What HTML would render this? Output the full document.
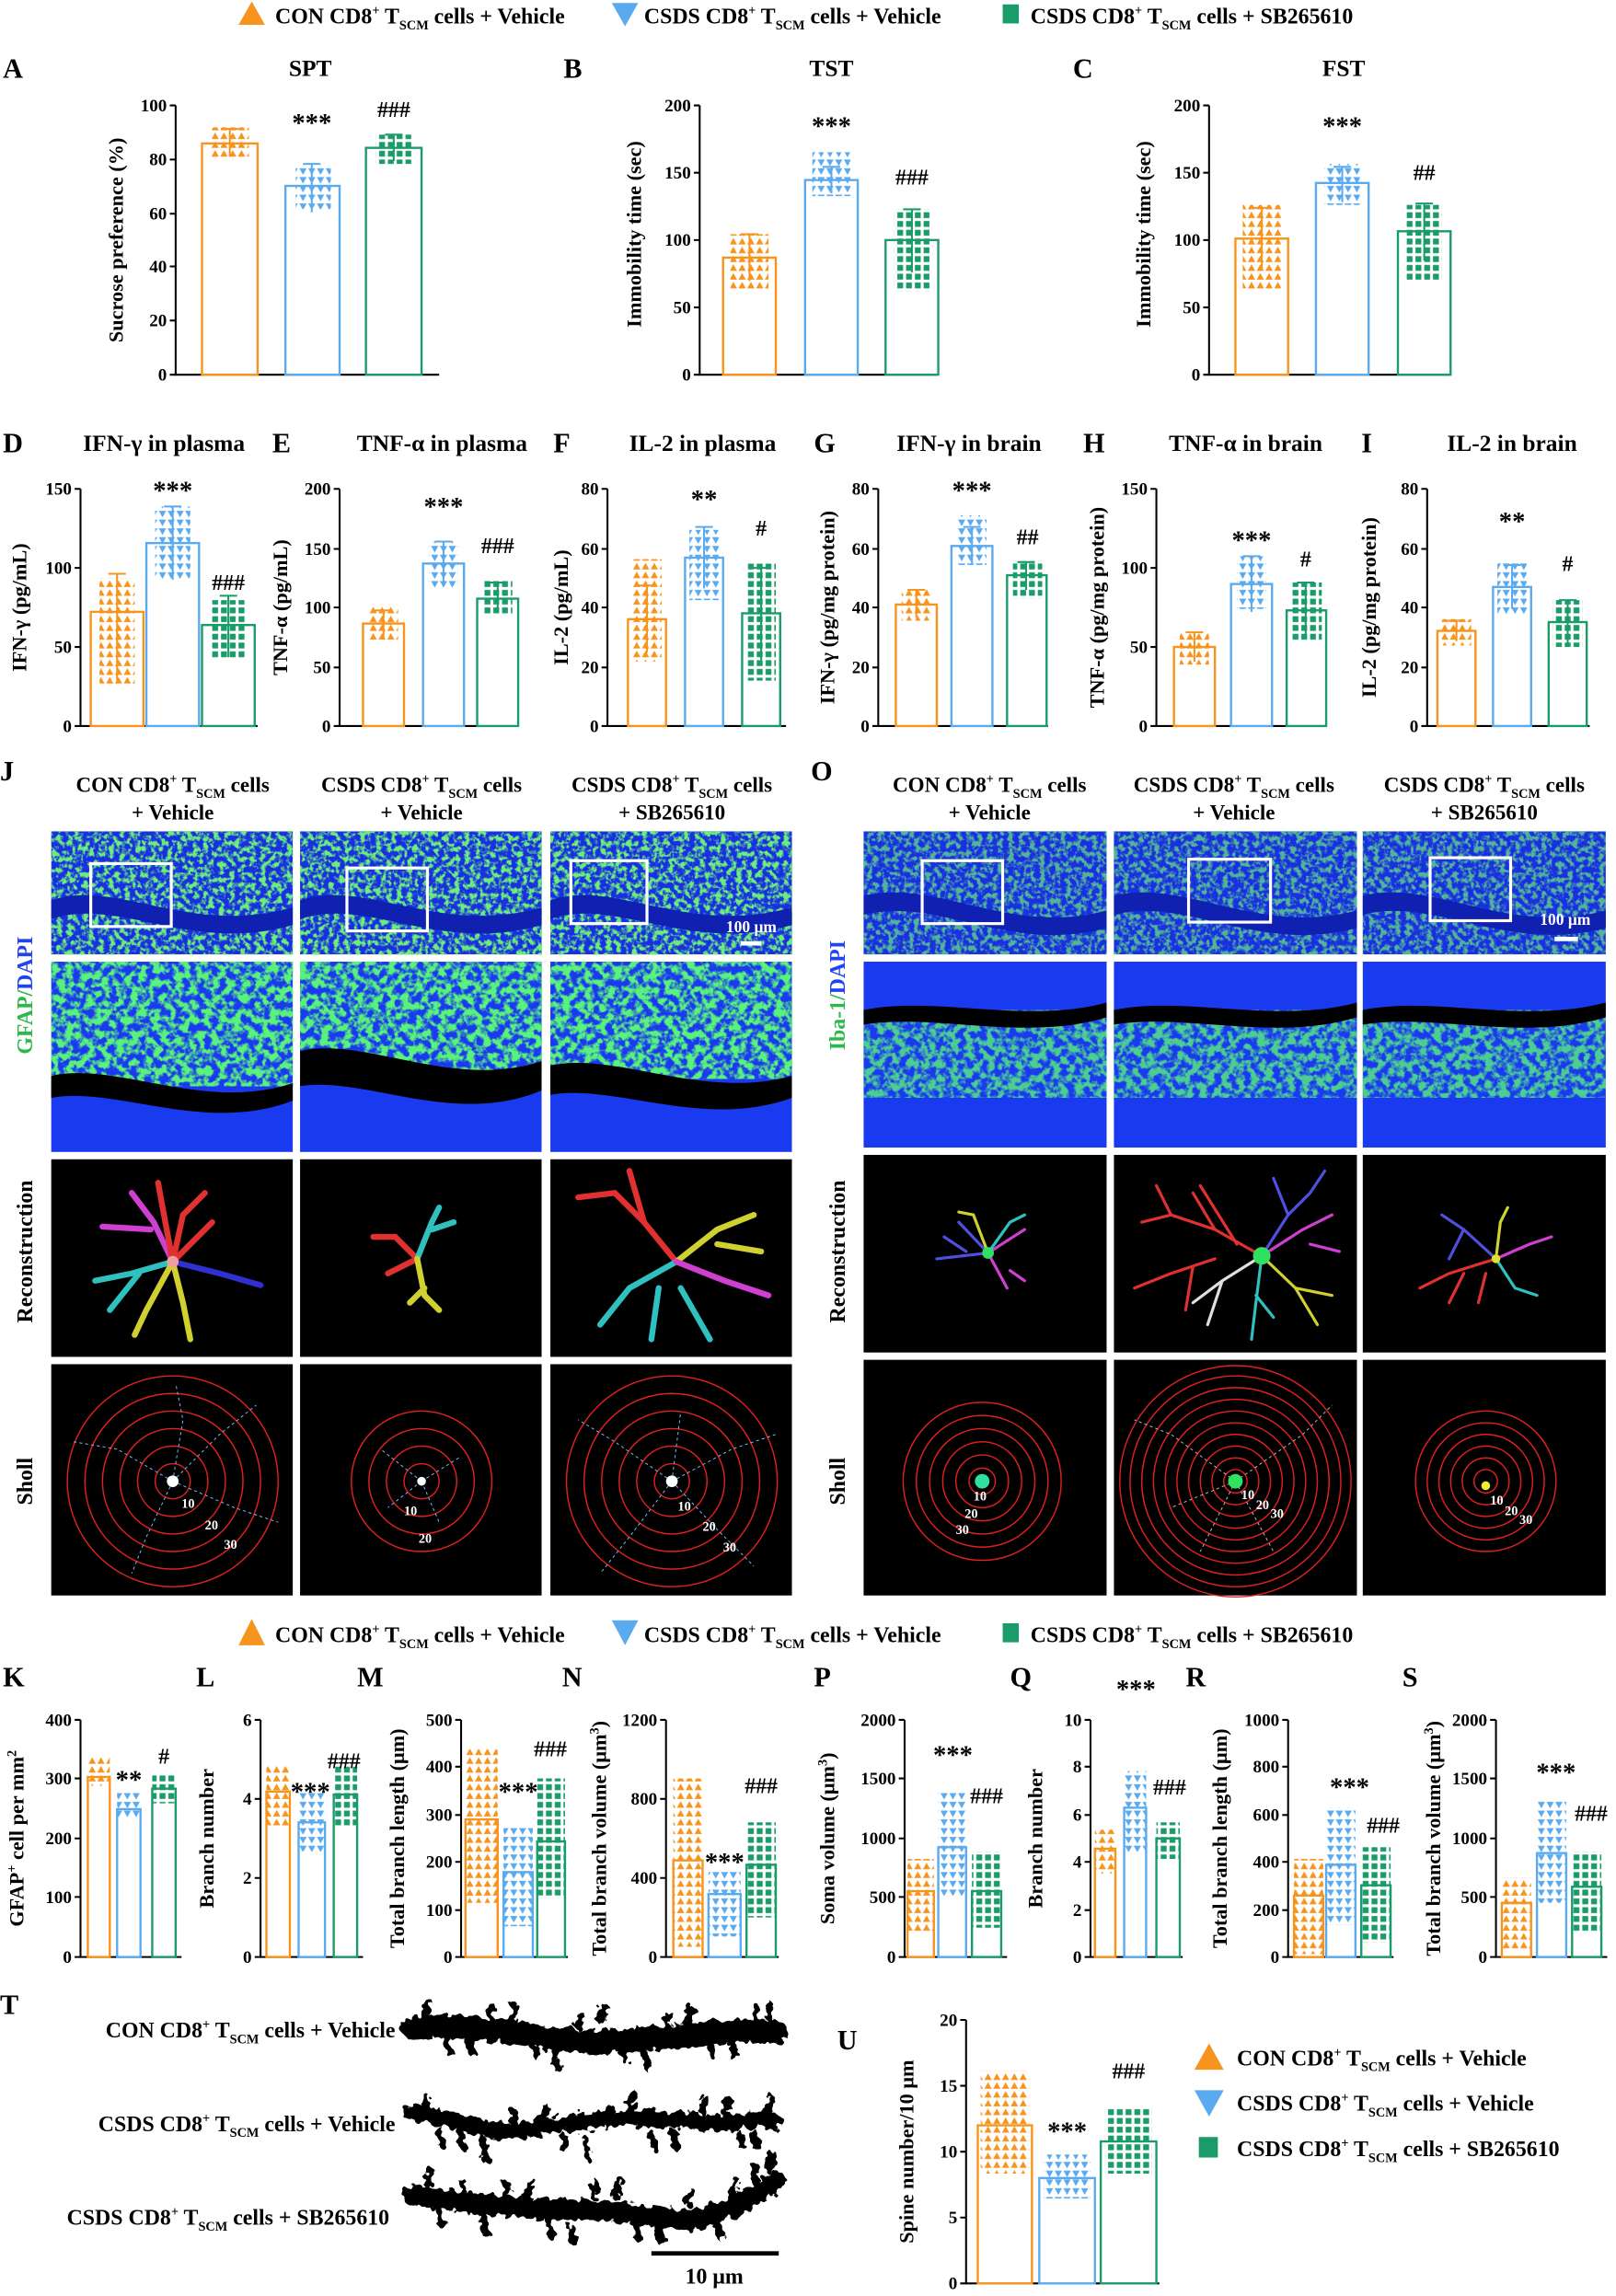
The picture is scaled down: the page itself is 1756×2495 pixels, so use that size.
<!DOCTYPE html>
<html><head><meta charset="utf-8"><style>
html,body{margin:0;padding:0;background:#fff}
svg{display:block}
text{font-family:"Liberation Serif",serif;font-weight:bold;fill:#000}
.t{font-size:15px}.tk{font-size:12px;text-anchor:end}.L{font-size:19px}.st{font-size:15px;text-anchor:middle}
.ax{stroke:#000;stroke-width:1.3;fill:none}
.o{fill:#fff;stroke:#f7941d;stroke-width:1.5}.b{fill:#fff;stroke:#5aaaf0;stroke-width:1.5}.g{fill:#fff;stroke:#1a9b6a;stroke-width:1.5}
.eo{stroke:#f7941d;stroke-width:1.3}.eb{stroke:#5aaaf0;stroke-width:1.3}.eg{stroke:#1a9b6a;stroke-width:1.3}
.co{fill:url(#po)}.cb{fill:url(#pb)}.cg{fill:url(#pg)}
</style></head><body>
<svg width="1756" height="2495" viewBox="0 0 1104 1568.6" xmlns="http://www.w3.org/2000/svg">
<defs>
<pattern id="po" width="6" height="6" patternUnits="userSpaceOnUse"><polygon points="0.5,5 3,0.5 5.5,5" fill="#f7941d"/></pattern>
<pattern id="pb" width="6" height="6" patternUnits="userSpaceOnUse"><polygon points="0.5,1 5.5,1 3,5.5" fill="#5aaaf0"/></pattern>
<pattern id="pg" width="6" height="6" patternUnits="userSpaceOnUse"><rect x="1" y="1" width="4" height="4" fill="#1a9b6a"/></pattern>
<filter id="sp" x="0" y="0" width="1" height="1"><feTurbulence type="fractalNoise" baseFrequency="0.28" numOctaves="3" seed="3"/><feColorMatrix values="0 0 0 0 0.15  0 0 0 0 0.85  0 0 0 0 0.2  5 0 0 0 -2.2"/></filter>
<filter id="sp2" x="0" y="0" width="1" height="1"><feTurbulence type="fractalNoise" baseFrequency="0.2" numOctaves="3" seed="7"/><feColorMatrix values="0 0 0 0 0.1  0 0 0 0 0.9  0 0 0 0 0.2  5 0 0 0 -2.0"/></filter>
<filter id="dd" x="-5%" y="-50%" width="110%" height="200%"><feTurbulence type="fractalNoise" baseFrequency="0.18" numOctaves="2" seed="5"/><feDisplacementMap in="SourceGraphic" scale="9"/></filter>
</defs>
<rect width="1104" height="1568.6" fill="#fff"/>

<!-- top legend -->
<polygon points="163,17 172,1 181,17" fill="#f7941d"/>
<text x="188" y="16" class="t">CON CD8<tspan font-size="9" dy="-6">+</tspan><tspan dy="6"> T</tspan><tspan font-size="9" dy="4">SCM</tspan><tspan dy="-4"> cells + Vehicle</tspan></text>
<polygon points="418,2 436,2 427,18" fill="#5aaaf0"/>
<text x="440" y="16" class="t">CSDS CD8<tspan font-size="9" dy="-6">+</tspan><tspan dy="6"> T</tspan><tspan font-size="9" dy="4">SCM</tspan><tspan dy="-4"> cells + Vehicle</tspan></text>
<rect x="685" y="3" width="11" height="13" fill="#1a9b6a"/>
<text x="704" y="16" class="t">CSDS CD8<tspan font-size="9" dy="-6">+</tspan><tspan dy="6"> T</tspan><tspan font-size="9" dy="4">SCM</tspan><tspan dy="-4"> cells + SB265610</tspan></text>

<!-- Row 1 -->
<text x="2" y="53" class="L">A</text><text x="212" y="52" class="st" style="font-size:16px">SPT</text>
<text x="385" y="53" class="L">B</text><text x="568" y="52" class="st" style="font-size:16px">TST</text>
<text x="733" y="53" class="L">C</text><text x="918" y="52" class="st" style="font-size:16px">FST</text>
<!-- A -->
<path class="ax" d="M120,72V256H300"/>
<g class="tk"><text x="114" y="260">0</text><text x="114" y="223">20</text><text x="114" y="186">40</text><text x="114" y="150">60</text><text x="114" y="113">80</text><text x="114" y="76">100</text></g>
<path class="ax" d="M116,256h4M116,219h4M116,182h4M116,146h4M116,109h4M116,72h4"/>
<text transform="translate(84,164) rotate(-90)" text-anchor="middle" class="t" style="font-size:14px">Sucrose preference (%)</text>
<rect class="o" x="138" y="98" width="38" height="158"/><rect class="b" x="195" y="127" width="37" height="129"/><rect class="g" x="250" y="101" width="38" height="155"/>
<rect class="co" x="144" y="87" width="26" height="22"/><rect class="cb" x="202" y="113" width="24" height="30"/><rect class="cg" x="257" y="92" width="24" height="20"/>
<path class="eo" d="M157,88V107M151,88h12"/><path class="eb" d="M213,112V145M207,112h12"/><path class="eg" d="M269,92V110M263,92h12"/>
<text x="213" y="90" class="st" style="font-size:18px">***</text><text x="269" y="80" class="st">###</text>
<!-- B -->
<path class="ax" d="M478,72V256H640"/>
<g class="tk"><text x="472" y="260">0</text><text x="472" y="214">50</text><text x="472" y="168">100</text><text x="472" y="122">150</text><text x="472" y="76">200</text></g>
<path class="ax" d="M474,256h4M474,210h4M474,164h4M474,118h4M474,72h4"/>
<text transform="translate(438,160) rotate(-90)" text-anchor="middle" class="t" style="font-size:14px">Immobility time (sec)</text>
<rect class="o" x="494" y="176" width="36" height="80"/><rect class="b" x="550" y="123" width="36" height="133"/><rect class="g" x="605" y="164" width="36" height="92"/>
<rect class="co" x="499" y="160" width="26" height="38"/><rect class="cb" x="555" y="104" width="26" height="30"/><rect class="cg" x="611" y="143" width="24" height="56"/>
<path class="eo" d="M512,160V192M506,160h12"/><path class="eb" d="M568,114V132M562,114h12"/><path class="eg" d="M623,143V186M617,143h12"/>
<text x="568" y="92" class="st" style="font-size:18px">***</text><text x="623" y="126" class="st">###</text>
<!-- C -->
<path class="ax" d="M826,72V256H990"/>
<g class="tk"><text x="820" y="260">0</text><text x="820" y="214">50</text><text x="820" y="168">100</text><text x="820" y="122">150</text><text x="820" y="76">200</text></g>
<path class="ax" d="M822,256h4M822,210h4M822,164h4M822,118h4M822,72h4"/>
<text transform="translate(786,160) rotate(-90)" text-anchor="middle" class="t" style="font-size:14px">Immobility time (sec)</text>
<rect class="o" x="844" y="163" width="36" height="93"/><rect class="b" x="899" y="125" width="36" height="131"/><rect class="g" x="955" y="158" width="36" height="98"/>
<rect class="co" x="849" y="140" width="26" height="58"/><rect class="cb" x="905" y="112" width="24" height="28"/><rect class="cg" x="961" y="140" width="24" height="52"/>
<path class="eo" d="M862,142V184M856,142h12"/><path class="eb" d="M917,114V138M911,114h12"/><path class="eg" d="M973,139V178M967,139h12"/>
<text x="917" y="92" class="st" style="font-size:18px">***</text><text x="973" y="123" class="st">##</text>

<!-- Row 2 -->
<g class="L"><text x="2" y="309">D</text><text x="186" y="309">E</text><text x="378" y="309">F</text><text x="556" y="309">G</text><text x="740" y="309">H</text><text x="930" y="309">I</text></g>
<g class="st" style="font-size:16px"><text x="112" y="308">IFN-γ in plasma</text><text x="302" y="308">TNF-α in plasma</text><text x="480" y="308">IL-2 in plasma</text><text x="662" y="308">IFN-γ in brain</text><text x="851" y="308">TNF-α in brain</text><text x="1033" y="308">IL-2 in brain</text></g>
<!-- D -->
<path class="ax" d="M55,334V496H176"/>
<g class="tk"><text x="49" y="500">0</text><text x="49" y="446">50</text><text x="49" y="392">100</text><text x="49" y="338">150</text></g>
<path class="ax" d="M51,496h4M51,442h4M51,388h4M51,334h4"/>
<text transform="translate(18,415) rotate(-90)" text-anchor="middle" class="t" style="font-size:14px">IFN-γ (pg/mL)</text>
<rect class="o" x="62" y="418" width="36" height="78"/><rect class="b" x="100" y="371" width="36" height="125"/><rect class="g" x="138" y="427" width="36" height="69"/>
<rect class="co" x="68" y="395" width="24" height="72"/><rect class="cb" x="106" y="346" width="24" height="50"/><rect class="cg" x="144" y="410" width="24" height="40"/>
<path class="eo" d="M80,392V465M74,392h12"/><path class="eb" d="M118,346V396M112,346h12"/><path class="eg" d="M156,407V449M150,407h12"/>
<text x="118" y="341" class="st" style="font-size:18px">***</text><text x="156" y="403" class="st">###</text>
<!-- E -->
<path class="ax" d="M232,334V496H354"/>
<g class="tk"><text x="226" y="500">0</text><text x="226" y="460">50</text><text x="226" y="419">100</text><text x="226" y="379">150</text><text x="226" y="338">200</text></g>
<path class="ax" d="M228,496h4M228,456h4M228,415h4M228,375h4M228,334h4"/>
<text transform="translate(196,415) rotate(-90)" text-anchor="middle" class="t" style="font-size:14px">TNF-α (pg/mL)</text>
<rect class="o" x="248" y="426" width="28" height="70"/><rect class="b" x="289" y="385" width="28" height="111"/><rect class="g" x="326" y="409" width="28" height="87"/>
<rect class="co" x="252" y="413" width="20" height="24"/><rect class="cb" x="293" y="370" width="20" height="32"/><rect class="cg" x="330" y="396" width="20" height="24"/>
<path class="eo" d="M262,417V436M256,417h12"/><path class="eb" d="M303,370V400M297,370h12"/><path class="eg" d="M340,398V418M334,398h12"/>
<text x="303" y="352" class="st" style="font-size:18px">***</text><text x="340" y="378" class="st">###</text>
<!-- F -->
<path class="ax" d="M415,334V496H537"/>
<g class="tk"><text x="409" y="500">0</text><text x="409" y="460">20</text><text x="409" y="419">40</text><text x="409" y="379">60</text><text x="409" y="338">80</text></g>
<path class="ax" d="M411,496h4M411,456h4M411,415h4M411,375h4M411,334h4"/>
<text transform="translate(388,415) rotate(-90)" text-anchor="middle" class="t" style="font-size:14px">IL-2 (pg/mL)</text>
<rect class="o" x="429" y="423" width="26" height="73"/><rect class="b" x="468" y="381" width="26" height="115"/><rect class="g" x="507" y="419" width="26" height="77"/>
<rect class="co" x="432" y="382" width="20" height="70"/><rect class="cb" x="471" y="362" width="20" height="48"/><rect class="cg" x="510" y="385" width="20" height="80"/>
<path class="eo" d="M442,400V446M436,400h12"/><path class="eb" d="M481,360V402M475,360h12"/><path class="eg" d="M520,388V451M514,388h12"/>
<text x="481" y="347" class="st" style="font-size:18px">**</text><text x="520" y="366" class="st">#</text>
<!-- G -->
<path class="ax" d="M600,334V496H716"/>
<g class="tk"><text x="594" y="500">0</text><text x="594" y="460">20</text><text x="594" y="419">40</text><text x="594" y="379">60</text><text x="594" y="338">80</text></g>
<path class="ax" d="M596,496h4M596,456h4M596,415h4M596,375h4M596,334h4"/>
<text transform="translate(570,415) rotate(-90)" text-anchor="middle" class="t" style="font-size:14px">IFN-γ (pg/mg protein)</text>
<rect class="o" x="612" y="413" width="28" height="83"/><rect class="b" x="650" y="373" width="28" height="123"/><rect class="g" x="688" y="393" width="27" height="103"/>
<rect class="co" x="616" y="402" width="20" height="22"/><rect class="cb" x="654" y="352" width="20" height="34"/><rect class="cg" x="692" y="383" width="20" height="26"/>
<path class="eo" d="M626,403V422M620,403h12"/><path class="eb" d="M664,360V386M658,360h12"/><path class="eg" d="M701,384V403M695,384h12"/>
<text x="664" y="341" class="st" style="font-size:18px">***</text><text x="702" y="372" class="st">##</text>
<!-- H -->
<path class="ax" d="M790,334V496H906"/>
<g class="tk"><text x="784" y="500">0</text><text x="784" y="446">50</text><text x="784" y="392">100</text><text x="784" y="338">150</text></g>
<path class="ax" d="M786,496h4M786,442h4M786,388h4M786,334h4"/>
<text transform="translate(754,415) rotate(-90)" text-anchor="middle" class="t" style="font-size:14px">TNF-α (pg/mg protein)</text>
<rect class="o" x="802" y="442" width="28" height="54"/><rect class="b" x="841" y="399" width="28" height="97"/><rect class="g" x="879" y="417" width="27" height="79"/>
<rect class="co" x="806" y="432" width="20" height="22"/><rect class="cb" x="845" y="380" width="20" height="36"/><rect class="cg" x="883" y="398" width="20" height="40"/>
<path class="eo" d="M816,432V452M810,432h12"/><path class="eb" d="M855,380V418M849,380h12"/><path class="eg" d="M892,398V436M886,398h12"/>
<text x="855" y="375" class="st" style="font-size:18px">***</text><text x="892" y="387" class="st">#</text>
<!-- I -->
<path class="ax" d="M975,334V496H1086"/>
<g class="tk"><text x="969" y="500">0</text><text x="969" y="460">20</text><text x="969" y="419">40</text><text x="969" y="379">60</text><text x="969" y="338">80</text></g>
<path class="ax" d="M971,496h4M971,456h4M971,415h4M971,375h4M971,334h4"/>
<text transform="translate(940,415) rotate(-90)" text-anchor="middle" class="t" style="font-size:14px">IL-2 (pg/mg protein)</text>
<rect class="o" x="982" y="431" width="26" height="65"/><rect class="b" x="1020" y="401" width="26" height="95"/><rect class="g" x="1058" y="425" width="26" height="71"/>
<rect class="co" x="985" y="423" width="20" height="18"/><rect class="cb" x="1023" y="384" width="20" height="36"/><rect class="cg" x="1061" y="410" width="20" height="32"/>
<path class="eo" d="M995,424V438M989,424h12"/><path class="eb" d="M1033,386V416M1027,386h12"/><path class="eg" d="M1071,410V440M1065,410h12"/>
<text x="1033" y="362" class="st" style="font-size:18px">**</text><text x="1071" y="390" class="st">#</text>

<!-- J panel -->
<text x="0" y="533" class="L">J</text>
<g class="st" style="font-size:14.5px">
<text x="118" y="541">CON CD8<tspan font-size="9" dy="-6">+</tspan><tspan dy="6"> T</tspan><tspan font-size="9" dy="4">SCM</tspan><tspan dy="-4"> cells</tspan></text><text x="118" y="560">+ Vehicle</text>
<text x="288" y="541">CSDS CD8<tspan font-size="9" dy="-6">+</tspan><tspan dy="6"> T</tspan><tspan font-size="9" dy="4">SCM</tspan><tspan dy="-4"> cells</tspan></text><text x="288" y="560">+ Vehicle</text>
<text x="459" y="541">CSDS CD8<tspan font-size="9" dy="-6">+</tspan><tspan dy="6"> T</tspan><tspan font-size="9" dy="4">SCM</tspan><tspan dy="-4"> cells</tspan></text><text x="459" y="560">+ SB265610</text>
<text x="676" y="541">CON CD8<tspan font-size="9" dy="-6">+</tspan><tspan dy="6"> T</tspan><tspan font-size="9" dy="4">SCM</tspan><tspan dy="-4"> cells</tspan></text><text x="676" y="560">+ Vehicle</text>
<text x="843" y="541">CSDS CD8<tspan font-size="9" dy="-6">+</tspan><tspan dy="6"> T</tspan><tspan font-size="9" dy="4">SCM</tspan><tspan dy="-4"> cells</tspan></text><text x="843" y="560">+ Vehicle</text>
<text x="1014" y="541">CSDS CD8<tspan font-size="9" dy="-6">+</tspan><tspan dy="6"> T</tspan><tspan font-size="9" dy="4">SCM</tspan><tspan dy="-4"> cells</tspan></text><text x="1014" y="560">+ SB265610</text>
</g>
<text x="554" y="533" class="L">O</text>
<text transform="translate(22,680) rotate(-90)" text-anchor="middle" class="t" style="fill:#2db84a">GFAP/<tspan style="fill:#2244ee">DAPI</tspan></text>
<text transform="translate(22,855) rotate(-90)" text-anchor="middle" class="t">Reconstruction</text>
<text transform="translate(22,1012) rotate(-90)" text-anchor="middle" class="t">Sholl</text>
<text transform="translate(577,680) rotate(-90)" text-anchor="middle" class="t" style="fill:#2db84a">Iba-1/<tspan style="fill:#2244ee">DAPI</tspan></text>
<text transform="translate(577,855) rotate(-90)" text-anchor="middle" class="t">Reconstruction</text>
<text transform="translate(577,1012) rotate(-90)" text-anchor="middle" class="t">Sholl</text>

<g>
<rect x="35" y="568" width="165" height="84" fill="#1830e0"/><rect x="35" y="568" width="165" height="84" filter="url(#sp)"/>
<path d="M35,615 C80,600 130,640 200,620 L200,632 C130,652 80,612 35,628Z" fill="#1020b0"/>
<rect x="62" y="590" width="55" height="43" fill="none" stroke="#fff" stroke-width="2"/>
<rect x="205" y="568" width="165" height="84" fill="#1830e0"/><rect x="205" y="568" width="165" height="84" filter="url(#sp)"/>
<path d="M205,615 C250,600 300,640 370,620 L370,632 C300,652 250,612 205,628Z" fill="#1020b0"/>
<rect x="237" y="593" width="55" height="43" fill="none" stroke="#fff" stroke-width="2"/>
<rect x="376" y="568" width="165" height="84" fill="#1830e0"/><rect x="376" y="568" width="165" height="84" filter="url(#sp)"/>
<path d="M376,615 C420,600 470,640 541,620 L541,632 C470,652 420,612 376,628Z" fill="#1020b0"/>
<rect x="390" y="588" width="52" height="43" fill="none" stroke="#fff" stroke-width="2"/>
<text x="496" y="637" style="font-size:11px;fill:#fff">100 μm</text><rect x="506" y="643" width="14" height="3" fill="#fff"/>
</g>
<g>
<rect x="35" y="657" width="165" height="130" fill="#1a3af0"/><rect x="35" y="657" width="165" height="85" filter="url(#sp2)"/>
<path d="M35,735 C80,725 140,760 200,740 L200,752 C140,775 80,742 35,750Z" fill="#000"/>
<rect x="205" y="657" width="165" height="130" fill="#1a3af0"/><rect x="205" y="657" width="165" height="75" filter="url(#sp2)"/>
<path d="M205,718 C250,708 310,745 370,725 L370,745 C310,770 250,735 205,742Z" fill="#000"/>
<rect x="376" y="657" width="165" height="130" fill="#1a3af0"/><rect x="376" y="657" width="165" height="80" filter="url(#sp2)"/>
<path d="M376,728 C420,718 480,752 541,735 L541,750 C480,772 420,740 376,748Z" fill="#000"/>
</g>
<g>
<rect x="590" y="568" width="166" height="84" fill="#1830e0"/><rect x="590" y="568" width="166" height="84" filter="url(#sp)" opacity=".7"/>
<path d="M590,612 C640,600 690,640 756,622 L756,634 C690,652 640,612 590,625Z" fill="#1020b0"/>
<rect x="630" y="588" width="55" height="43" fill="none" stroke="#fff" stroke-width="2"/>
<rect x="761" y="568" width="166" height="84" fill="#1830e0"/><rect x="761" y="568" width="166" height="84" filter="url(#sp)" opacity=".7"/>
<path d="M761,612 C810,600 860,640 927,622 L927,634 C860,652 810,612 761,625Z" fill="#1020b0"/>
<rect x="812" y="587" width="56" height="43" fill="none" stroke="#fff" stroke-width="2"/>
<rect x="931" y="568" width="166" height="84" fill="#1830e0"/><rect x="931" y="568" width="166" height="84" filter="url(#sp)" opacity=".7"/>
<path d="M931,612 C980,600 1030,640 1097,622 L1097,634 C1030,652 980,612 931,625Z" fill="#1020b0"/>
<rect x="977" y="586" width="55" height="43" fill="none" stroke="#fff" stroke-width="2"/>
<text x="1052" y="632" style="font-size:11px;fill:#fff">100 μm</text><rect x="1062" y="640" width="16" height="3" fill="#fff"/>
<rect x="590" y="657" width="166" height="127" fill="#1a3af0"/><rect x="590" y="690" width="166" height="60" filter="url(#sp2)" opacity=".8"/>
<path d="M590,690 C640,680 700,700 756,685 L756,695 C700,712 640,692 590,700Z" fill="#000"/>
<rect x="761" y="657" width="166" height="127" fill="#1a3af0"/><rect x="761" y="690" width="166" height="60" filter="url(#sp2)" opacity=".8"/>
<path d="M761,690 C810,680 870,700 927,685 L927,695 C870,712 810,692 761,700Z" fill="#000"/>
<rect x="931" y="657" width="166" height="127" fill="#1a3af0"/><rect x="931" y="690" width="166" height="60" filter="url(#sp2)" opacity=".8"/>
<path d="M931,690 C980,680 1040,700 1097,685 L1097,695 C1040,712 980,692 931,700Z" fill="#000"/>
</g>
<!-- reconstruction -->
<g fill="#000"><rect x="35" y="792" width="165" height="135"/><rect x="205" y="792" width="165" height="135"/><rect x="376" y="792" width="165" height="135"/>
<rect x="590" y="789" width="166" height="135"/><rect x="761" y="789" width="166" height="135"/><rect x="931" y="789" width="166" height="135"/></g>
<g fill="none" stroke-width="4" stroke-linecap="round">
<path d="M118,862 L105,835 L90,815 M103,840 L70,838" stroke="#d040d0"/>
<path d="M118,862 L112,830 L108,808 M118,862 L125,830 L140,815 M118,862 L145,835" stroke="#e03030"/>
<path d="M118,862 L150,870 L178,878" stroke="#3030d0"/>
<path d="M118,862 L90,870 L65,875 M95,870 L75,895" stroke="#30c0c0"/>
<path d="M118,862 L125,890 L130,915 M118,862 L100,895 L92,912" stroke="#d0d030"/>
<path d="M285,860 L270,845 L255,845 M285,860 L265,870" stroke="#e03030"/>
<path d="M285,860 L295,835 L300,825 M295,840 L310,835" stroke="#30c0c0"/>
<path d="M285,860 L290,885 L300,895 M290,880 L280,890" stroke="#d0d030"/>
<path d="M462,862 L440,835 L420,815 L395,818 M440,835 L430,800" stroke="#e03030"/>
<path d="M462,862 L490,840 L515,830 M490,850 L520,855" stroke="#d0d030"/>
<path d="M462,862 L430,880 L410,905 M450,880 L445,915 M465,880 L485,915" stroke="#30c0c0"/>
<path d="M462,862 L495,875 L525,885" stroke="#d040d0"/>
</g>
<g fill="none" stroke-width="2" stroke-linecap="round">
<path d="M675,856 L655,835 M675,856 L640,860 M660,855 L645,845" stroke="#5050e0"/>
<path d="M675,856 L700,840 M675,856 L688,880 M690,868 L700,875" stroke="#d040d0"/>
<path d="M675,856 L665,830 L655,828" stroke="#d0d030"/>
<path d="M675,856 L690,835 L700,830" stroke="#30c0c0"/>
<path d="M862,858 L830,840 L800,830 L780,835 M830,840 L815,815 M800,830 L790,810 M830,860 L800,870 L775,880 M815,865 L810,895 M845,850 L820,810" stroke="#e03030"/>
<path d="M862,858 L880,830 L895,815 L905,800 M880,830 L870,805" stroke="#5050e0"/>
<path d="M862,858 L890,840 L910,830 M895,850 L915,855" stroke="#d040d0"/>
<path d="M862,858 L885,880 L900,905 M885,880 L910,885" stroke="#d0d030"/>
<path d="M862,858 L858,890 L855,915 M858,885 L870,900" stroke="#30c0c0"/>
<path d="M862,858 L835,875 L825,905 M835,875 L815,890" stroke="#e0e0e0"/>
<path d="M1022,860 L1000,840 L985,830 M1000,840 L990,860" stroke="#5050e0"/>
<path d="M1022,860 L990,870 L970,880 M1000,870 L990,890 M1015,870 L1010,890" stroke="#e03030"/>
<path d="M1022,860 L1045,850 L1060,845" stroke="#d040d0"/>
<path d="M1022,860 L1035,880 L1050,885" stroke="#30c0c0"/>
<path d="M1022,860 L1025,835 L1030,825" stroke="#d0d030"/>
</g>
<circle cx="118" cy="862" r="4" fill="#f0a0a0"/><circle cx="675" cy="856" r="4" fill="#30e060"/><circle cx="862" cy="858" r="6" fill="#30e060"/><circle cx="1022" cy="860" r="3" fill="#e0e030"/>
<!-- sholl -->
<g fill="#000"><rect x="35" y="932" width="165" height="158"/><rect x="205" y="932" width="165" height="158"/><rect x="376" y="932" width="165" height="158"/>
<rect x="590" y="929" width="166" height="161"/><rect x="761" y="929" width="166" height="161"/><rect x="931" y="929" width="166" height="161"/></g>
<g fill="none" stroke="#e02020" stroke-width="0.9">
<circle cx="118" cy="1012" r="12"/><circle cx="118" cy="1012" r="24"/><circle cx="118" cy="1012" r="36"/><circle cx="118" cy="1012" r="48"/><circle cx="118" cy="1012" r="60"/><circle cx="118" cy="1012" r="72"/>
<circle cx="288" cy="1012" r="12"/><circle cx="288" cy="1012" r="24"/><circle cx="288" cy="1012" r="36"/><circle cx="288" cy="1012" r="48"/>
<circle cx="459" cy="1012" r="12"/><circle cx="459" cy="1012" r="24"/><circle cx="459" cy="1012" r="36"/><circle cx="459" cy="1012" r="48"/><circle cx="459" cy="1012" r="60"/><circle cx="459" cy="1012" r="72"/>
<circle cx="671" cy="1012" r="9"/><circle cx="671" cy="1012" r="18"/><circle cx="671" cy="1012" r="27"/><circle cx="671" cy="1012" r="36"/><circle cx="671" cy="1012" r="45"/><circle cx="671" cy="1012" r="54"/>
<circle cx="844" cy="1012" r="8"/><circle cx="844" cy="1012" r="16"/><circle cx="844" cy="1012" r="24"/><circle cx="844" cy="1012" r="32"/><circle cx="844" cy="1012" r="40"/><circle cx="844" cy="1012" r="48"/><circle cx="844" cy="1012" r="56"/><circle cx="844" cy="1012" r="64"/><circle cx="844" cy="1012" r="72"/><circle cx="844" cy="1012" r="79"/>
<circle cx="1015" cy="1012" r="8"/><circle cx="1015" cy="1012" r="16"/><circle cx="1015" cy="1012" r="24"/><circle cx="1015" cy="1012" r="32"/><circle cx="1015" cy="1012" r="40"/><circle cx="1015" cy="1012" r="48"/>
</g>
<g fill="none" stroke-width="0.6" stroke-dasharray="2,2">
<path d="M118,1012 L80,990 L50,985 M118,1012 L150,980 L175,960 M118,1012 L100,1050 L90,1075 M118,1012 L160,1030 L190,1040 M118,1012 L125,970 L120,945" stroke="#80c0ff"/>
<path d="M288,1012 L260,990 M288,1012 L315,995 M288,1012 L300,1040 M288,1012 L265,1030" stroke="#80c0ff"/>
<path d="M459,1012 L420,985 L395,970 M459,1012 L500,990 L530,980 M459,1012 L430,1050 L410,1075 M459,1012 L490,1045 L515,1070 M459,1012 L465,965" stroke="#80c0ff"/>
<path d="M844,1012 L800,980 L775,970 M844,1012 L890,980 L910,960 M844,1012 L820,1060 M844,1012 L870,1060 M844,1012 L800,1030" stroke="#c0c0c0"/>
</g>
<circle cx="118" cy="1012" r="4" fill="#fff"/><circle cx="288" cy="1012" r="3" fill="#fff"/><circle cx="459" cy="1012" r="4" fill="#fff"/><circle cx="671" cy="1012" r="5" fill="#30e0a0"/><circle cx="844" cy="1012" r="5" fill="#30e060"/><circle cx="1015" cy="1015" r="3" fill="#f0f030"/>
<g style="font-size:9px"><text x="124" y="1030" style="fill:#fff">10</text><text x="140" y="1045" style="fill:#fff">20</text><text x="153" y="1058" style="fill:#fff">30</text>
<text x="276" y="1035" style="fill:#fff">10</text><text x="286" y="1054" style="fill:#fff">20</text>
<text x="463" y="1032" style="fill:#fff">10</text><text x="480" y="1046" style="fill:#fff">20</text><text x="494" y="1060" style="fill:#fff">30</text>
<text x="665" y="1025" style="fill:#fff">10</text><text x="659" y="1037" style="fill:#fff">20</text><text x="653" y="1048" style="fill:#fff">30</text>
<text x="848" y="1024" style="fill:#fff">10</text><text x="858" y="1031" style="fill:#fff">20</text><text x="868" y="1037" style="fill:#fff">30</text>
<text x="1018" y="1028" style="fill:#fff">10</text><text x="1028" y="1035" style="fill:#fff">20</text><text x="1038" y="1041" style="fill:#fff">30</text></g>

<!-- legend 2 -->
<polygon points="163,1124 172,1106 181,1124" fill="#f7941d"/>
<text x="188" y="1122" class="t">CON CD8<tspan font-size="9" dy="-6">+</tspan><tspan dy="6"> T</tspan><tspan font-size="9" dy="4">SCM</tspan><tspan dy="-4"> cells + Vehicle</tspan></text>
<polygon points="418,1107 436,1107 427,1124" fill="#5aaaf0"/>
<text x="440" y="1122" class="t">CSDS CD8<tspan font-size="9" dy="-6">+</tspan><tspan dy="6"> T</tspan><tspan font-size="9" dy="4">SCM</tspan><tspan dy="-4"> cells + Vehicle</tspan></text>
<rect x="685" y="1109" width="11" height="13" fill="#1a9b6a"/>
<text x="704" y="1122" class="t">CSDS CD8<tspan font-size="9" dy="-6">+</tspan><tspan dy="6"> T</tspan><tspan font-size="9" dy="4">SCM</tspan><tspan dy="-4"> cells + SB265610</tspan></text>

<!-- Bottom row letters -->
<g class="L"><text x="2" y="1152">K</text><text x="134" y="1152">L</text><text x="244" y="1152">M</text><text x="384" y="1152">N</text><text x="556" y="1152">P</text><text x="690" y="1152">Q</text><text x="810" y="1152">R</text><text x="958" y="1152">S</text></g>
<!-- K -->
<path class="ax" d="M55,1175V1337H124"/>
<g class="tk"><text x="49" y="1341">0</text><text x="49" y="1300">100</text><text x="49" y="1260">200</text><text x="49" y="1219">300</text><text x="49" y="1179">400</text></g>
<path class="ax" d="M51,1337h4M51,1296h4M51,1256h4M51,1215h4M51,1175h4"/>
<text transform="translate(16,1256) rotate(-90)" text-anchor="middle" class="t" style="font-size:14px">GFAP<tspan font-size="9" dy="-5">+</tspan><tspan dy="5"> cell per mm</tspan><tspan font-size="9" dy="-5">2</tspan></text>
<rect class="o" x="60" y="1214" width="15" height="123"/><rect class="b" x="80" y="1236" width="16" height="101"/><rect class="g" x="104" y="1222" width="16" height="115"/>
<rect class="co" x="60" y="1200" width="15" height="20"/><rect class="cb" x="80" y="1225" width="16" height="17"/><rect class="cg" x="104" y="1212" width="16" height="20"/>
<text x="88" y="1222" class="st" style="font-size:18px">**</text><text x="112" y="1205" class="st">#</text>
<!-- L -->
<path class="ax" d="M178,1175V1337H248"/>
<g class="tk"><text x="172" y="1341">0</text><text x="172" y="1287">2</text><text x="172" y="1233">4</text><text x="172" y="1179">6</text></g>
<path class="ax" d="M174,1337h4M174,1283h4M174,1229h4M174,1175h4"/>
<text transform="translate(146,1256) rotate(-90)" text-anchor="middle" class="t" style="font-size:14px">Branch number</text>
<rect class="o" x="182" y="1224" width="16" height="113"/><rect class="b" x="204" y="1245" width="18" height="92"/><rect class="g" x="228" y="1226" width="16" height="111"/>
<rect class="co" x="182" y="1206" width="16" height="42"/><rect class="cb" x="204" y="1225" width="18" height="40"/><rect class="cg" x="228" y="1206" width="16" height="42"/>
<text x="212" y="1230" class="st" style="font-size:18px">***</text><text x="235" y="1208" class="st">###</text>
<!-- M -->
<path class="ax" d="M315,1175V1337H388"/>
<g class="tk"><text x="309" y="1341">0</text><text x="309" y="1309">100</text><text x="309" y="1276">200</text><text x="309" y="1244">300</text><text x="309" y="1211">400</text><text x="309" y="1179">500</text></g>
<path class="ax" d="M311,1337h4M311,1305h4M311,1272h4M311,1240h4M311,1207h4M311,1175h4"/>
<text transform="translate(276,1256) rotate(-90)" text-anchor="middle" class="t" style="font-size:14px">Total branch length (μm)</text>
<rect class="o" x="318" y="1243" width="22" height="94"/><rect class="b" x="344" y="1279" width="20" height="58"/><rect class="g" x="367" y="1258" width="19" height="79"/>
<rect class="co" x="318" y="1195" width="22" height="105"/><rect class="cb" x="344" y="1248" width="20" height="68"/><rect class="cg" x="367" y="1215" width="19" height="80"/>
<text x="354" y="1230" class="st" style="font-size:18px">***</text><text x="376" y="1200" class="st">###</text>
<!-- N -->
<path class="ax" d="M455,1175V1337H532"/>
<g class="tk"><text x="449" y="1341">0</text><text x="449" y="1287">400</text><text x="449" y="1233">800</text><text x="449" y="1179">1200</text></g>
<path class="ax" d="M451,1337h4M451,1283h4M451,1229h4M451,1175h4"/>
<text transform="translate(414,1256) rotate(-90)" text-anchor="middle" class="t" style="font-size:14px">Total branch volume (μm<tspan font-size="9" dy="-5">3</tspan><tspan dy="5">)</tspan></text>
<rect class="o" x="460" y="1271" width="20" height="66"/><rect class="b" x="484" y="1294" width="22" height="43"/><rect class="g" x="510" y="1274" width="20" height="63"/>
<rect class="co" x="460" y="1215" width="20" height="115"/><rect class="cb" x="484" y="1278" width="22" height="45"/><rect class="cg" x="510" y="1245" width="20" height="65"/>
<text x="495" y="1278" class="st" style="font-size:18px">***</text><text x="520" y="1225" class="st">###</text>
<!-- P -->
<path class="ax" d="M618,1175V1337H688"/>
<g class="tk"><text x="612" y="1341">0</text><text x="612" y="1300">500</text><text x="612" y="1260">1000</text><text x="612" y="1219">1500</text><text x="612" y="1179">2000</text></g>
<path class="ax" d="M614,1337h4M614,1296h4M614,1256h4M614,1215h4M614,1175h4"/>
<text transform="translate(570,1256) rotate(-90)" text-anchor="middle" class="t" style="font-size:14px">Soma volume (μm<tspan font-size="9" dy="-5">3</tspan><tspan dy="5">)</tspan></text>
<rect class="o" x="620" y="1292" width="18" height="45"/><rect class="b" x="641" y="1262" width="19" height="75"/><rect class="g" x="664" y="1292" width="20" height="45"/>
<rect class="co" x="620" y="1270" width="18" height="50"/><rect class="cb" x="641" y="1225" width="19" height="70"/><rect class="cg" x="664" y="1265" width="20" height="52"/>
<text x="651" y="1205" class="st" style="font-size:18px">***</text><text x="674" y="1232" class="st">###</text>
<!-- Q -->
<path class="ax" d="M745,1175V1337H808"/>
<g class="tk"><text x="739" y="1341">0</text><text x="739" y="1309">2</text><text x="739" y="1276">4</text><text x="739" y="1244">6</text><text x="739" y="1211">8</text><text x="739" y="1179">10</text></g>
<path class="ax" d="M741,1337h4M741,1305h4M741,1272h4M741,1240h4M741,1207h4M741,1175h4"/>
<text transform="translate(712,1256) rotate(-90)" text-anchor="middle" class="t" style="font-size:14px">Branch number</text>
<rect class="o" x="748" y="1263" width="14" height="74"/><rect class="b" x="768" y="1235" width="15" height="102"/><rect class="g" x="790" y="1256" width="16" height="81"/>
<rect class="co" x="748" y="1250" width="14" height="30"/><rect class="cb" x="768" y="1210" width="15" height="55"/><rect class="cg" x="790" y="1245" width="16" height="25"/>
<text x="776" y="1160" class="st" style="font-size:18px">***</text><text x="799" y="1226" class="st">###</text>
<!-- R -->
<path class="ax" d="M880,1175V1337H952"/>
<g class="tk"><text x="874" y="1341">0</text><text x="874" y="1309">200</text><text x="874" y="1276">400</text><text x="874" y="1244">600</text><text x="874" y="1211">800</text><text x="874" y="1179">1000</text></g>
<path class="ax" d="M876,1337h4M876,1305h4M876,1272h4M876,1240h4M876,1207h4M876,1175h4"/>
<text transform="translate(838,1256) rotate(-90)" text-anchor="middle" class="t" style="font-size:14px">Total branch length (μm)</text>
<rect class="o" x="884" y="1295" width="20" height="42"/><rect class="b" x="906" y="1274" width="20" height="63"/><rect class="g" x="930" y="1288" width="20" height="49"/>
<rect class="co" x="884" y="1270" width="20" height="65"/><rect class="cb" x="906" y="1235" width="20" height="80"/><rect class="cg" x="930" y="1262" width="20" height="65"/>
<text x="922" y="1227" class="st" style="font-size:18px">***</text><text x="945" y="1252" class="st">###</text>
<!-- S -->
<path class="ax" d="M1022,1175V1337H1098"/>
<g class="tk"><text x="1016" y="1341">0</text><text x="1016" y="1300">500</text><text x="1016" y="1260">1000</text><text x="1016" y="1219">1500</text><text x="1016" y="1179">2000</text></g>
<path class="ax" d="M1018,1337h4M1018,1296h4M1018,1256h4M1018,1215h4M1018,1175h4"/>
<text transform="translate(984,1256) rotate(-90)" text-anchor="middle" class="t" style="font-size:14px">Total branch volume (μm<tspan font-size="9" dy="-5">3</tspan><tspan dy="5">)</tspan></text>
<rect class="o" x="1026" y="1300" width="20" height="37"/><rect class="b" x="1050" y="1266" width="20" height="71"/><rect class="g" x="1074" y="1289" width="20" height="48"/>
<rect class="co" x="1026" y="1283" width="20" height="50"/><rect class="cb" x="1050" y="1230" width="20" height="70"/><rect class="cg" x="1074" y="1265" width="20" height="55"/>
<text x="1063" y="1217" class="st" style="font-size:18px">***</text><text x="1087" y="1244" class="st">###</text>

<!-- T -->
<text x="0" y="1376" class="L">T</text>
<g class="t" style="text-anchor:end;font-size:15px">
<text x="270" y="1392">CON CD8<tspan font-size="9" dy="-6">+</tspan><tspan dy="6"> T</tspan><tspan font-size="9" dy="4">SCM</tspan><tspan dy="-4"> cells + Vehicle</tspan></text>
<text x="270" y="1456">CSDS CD8<tspan font-size="9" dy="-6">+</tspan><tspan dy="6"> T</tspan><tspan font-size="9" dy="4">SCM</tspan><tspan dy="-4"> cells + Vehicle</tspan></text>
<text x="266" y="1520">CSDS CD8<tspan font-size="9" dy="-6">+</tspan><tspan dy="6"> T</tspan><tspan font-size="9" dy="4">SCM</tspan><tspan dy="-4"> cells + SB265610</tspan></text>
</g>
<g stroke="#000" fill="none" stroke-linecap="round" filter="url(#dd)">
<path d="M282,1385 C330,1380 380,1398 420,1395 C470,1392 500,1385 530,1388" stroke-width="16"/>
<path d="M290,1376l3,-8M305,1394l2,8M320,1392l2,10M335,1378l1,-7M350,1380l2,-9M365,1396l1,8M380,1400l0,12M395,1384l2,-7M410,1380l4,-8M425,1398l2,9M440,1402l2,10M455,1384l2,-8M470,1382l3,-9M485,1395l1,8M500,1394l2,12M515,1380l2,-8M525,1378l1,-8" stroke-width="5"/>
<path d="M280,1443 C310,1445 330,1460 360,1455 C400,1448 440,1445 480,1450 C505,1452 520,1445 530,1450" stroke-width="11"/>
<path d="M290,1440l2,-6M300,1455l2,10M315,1458l1,8M330,1462l2,14M350,1450l1,-7M370,1450l3,-10M385,1460l1,9M400,1462l2,12M415,1448l2,-8M430,1442l3,-11M445,1458l2,9M460,1457l2,10M480,1442l2,-8M495,1445l3,-10M505,1458l2,8M515,1457l2,10M525,1442l2,-8" stroke-width="5"/>
<path d="M282,1500 C320,1505 360,1510 400,1510 C440,1510 460,1520 480,1515 C500,1510 515,1500 530,1490" stroke-width="14"/>
<path d="M292,1492l2,-9M300,1510l1,9M315,1500l2,-8M330,1514l2,12M345,1500l1,-8M360,1500l3,-10M375,1518l1,9M390,1522l2,10M405,1500l2,-8M420,1500l3,-11M435,1520l1,9M450,1522l2,10M470,1505l2,-8M490,1520l2,8M500,1500l3,-10M515,1490l2,-9M525,1482l3,-10" stroke-width="5"/>
</g>
<rect x="445" y="1538" width="87" height="3" fill="#000"/>
<text x="488" y="1560" class="st">10 μm</text>

<!-- U -->
<text x="572" y="1400" class="L">U</text>
<path class="ax" d="M660,1380V1560H792"/>
<g class="tk"><text x="654" y="1564">0</text><text x="654" y="1519">5</text><text x="654" y="1474">10</text><text x="654" y="1429">15</text><text x="654" y="1384">20</text></g>
<path class="ax" d="M656,1560h4M656,1515h4M656,1470h4M656,1425h4M656,1380h4"/>
<text transform="translate(624,1470) rotate(-90)" text-anchor="middle" class="t" style="font-size:14px">Spine number/10 μm</text>
<rect class="o" x="668" y="1452" width="37" height="108"/><rect class="b" x="710" y="1488" width="38" height="72"/><rect class="g" x="752" y="1463" width="38" height="97"/>
<rect class="co" x="670" y="1415" width="33" height="70"/><rect class="cb" x="713" y="1472" width="32" height="30"/><rect class="cg" x="755" y="1440" width="32" height="45"/>
<text x="729" y="1462" class="st" style="font-size:18px">***</text><text x="771" y="1420" class="st">###</text>
<polygon points="816,1414 826,1396 836,1414" fill="#f7941d"/>
<text x="845" y="1411" class="t">CON CD8<tspan font-size="9" dy="-6">+</tspan><tspan dy="6"> T</tspan><tspan font-size="9" dy="4">SCM</tspan><tspan dy="-4"> cells + Vehicle</tspan></text>
<polygon points="816,1428 836,1428 826,1446" fill="#5aaaf0"/>
<text x="845" y="1442" class="t">CSDS CD8<tspan font-size="9" dy="-6">+</tspan><tspan dy="6"> T</tspan><tspan font-size="9" dy="4">SCM</tspan><tspan dy="-4"> cells + Vehicle</tspan></text>
<rect x="819" y="1460" width="13" height="14" fill="#1a9b6a"/>
<text x="845" y="1473" class="t">CSDS CD8<tspan font-size="9" dy="-6">+</tspan><tspan dy="6"> T</tspan><tspan font-size="9" dy="4">SCM</tspan><tspan dy="-4"> cells + SB265610</tspan></text>
</svg>
</body></html>
